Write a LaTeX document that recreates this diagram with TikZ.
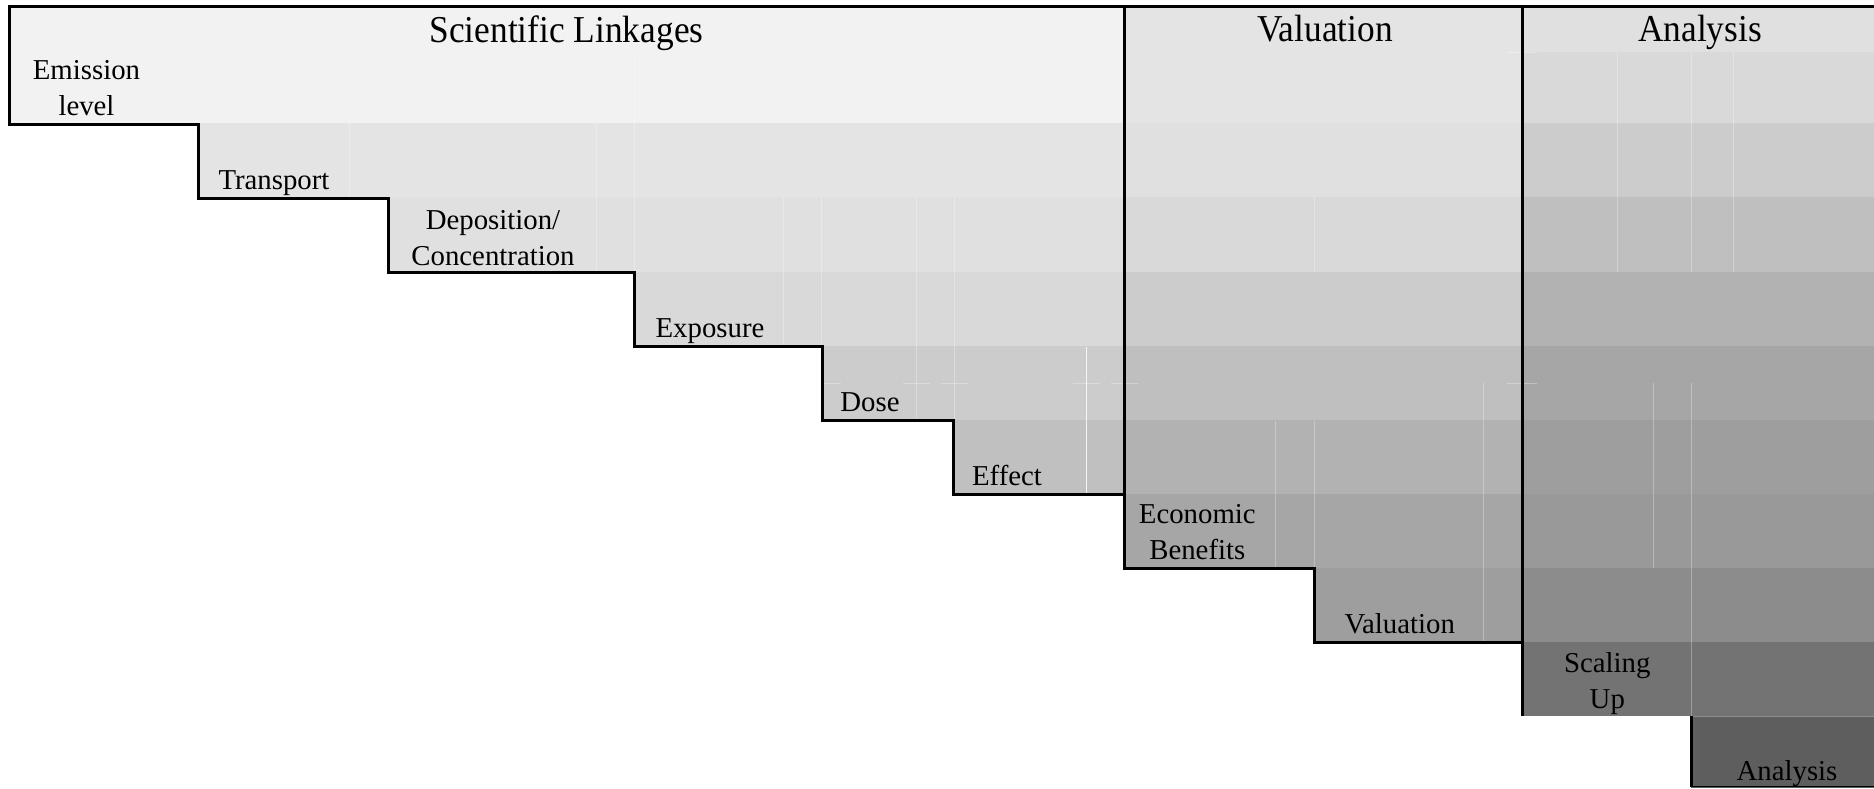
\documentclass[tikz,border=0pt]{standalone}
\usepackage{fontspec}
\setmainfont{Liberation Serif}
\newfontfamily\headfont[FakeStretch=0.93]{Liberation Serif}
\definecolor{cF2}{HTML}{F2F2F2}
\definecolor{cE4}{HTML}{E4E4E4}
\definecolor{cE0}{HTML}{E0E0E0}
\definecolor{cD9}{HTML}{D9D9D9}
\definecolor{cCC}{HTML}{CCCCCC}
\definecolor{cC0}{HTML}{C0C0C0}
\definecolor{cBF}{HTML}{BFBFBF}
\definecolor{cB2}{HTML}{B2B2B2}
\definecolor{cA6}{HTML}{A6A6A6}
\definecolor{c9E}{HTML}{9E9E9E}
\definecolor{c99}{HTML}{999999}
\definecolor{c8C}{HTML}{8C8C8C}
\definecolor{c73}{HTML}{737373}
\definecolor{c5E}{HTML}{5E5E5E}
\begin{document}
\begin{tikzpicture}[x=0.5pt,y=-0.5pt,
  edge/.style={draw=black, line width=1.5pt, line join=miter},
  seam/.style={draw=white, line width=0.5pt, opacity=0.3},
  brightseam/.style={draw=white, line width=0.6pt, opacity=0.85},
  head/.style={inner sep=0pt, anchor=base, font=\headfont\fontsize{19}{22}\selectfont},
  lab/.style={inner sep=0pt, anchor=base, font=\fontsize{14.4}{17.7}\selectfont}
]
\useasboundingbox (0,0) rectangle (1874,788);
\clip (0,0) rectangle (1874,788);
\fill[white] (0,0) rectangle (1874,788);
% Scientific Linkages section
\fill[cF2] (9.6,7) rectangle (1124.7,123.3);
\fill[cE4] (198.4,123.3) rectangle (1124.7,197.4);
\fill[cE0] (388.4,197.4) rectangle (1124.7,271.5);
\fill[cD9] (634.7,271.5) rectangle (1124.7,345.6);
\fill[cCC] (822.3,345.6) rectangle (1124.7,419.7);
\fill[cC0] (953.8,419.7) rectangle (1124.7,493.8);
% Valuation section
\fill[cE4] (1124.7,7) rectangle (1522.7,123.3);
\fill[cE0] (1124.7,123.3) rectangle (1522.7,197.4);
\fill[cD9] (1124.7,197.4) rectangle (1522.7,271.5);
\fill[cCC] (1124.7,271.5) rectangle (1522.7,345.6);
\fill[cBF] (1124.7,345.6) rectangle (1522.7,419.7);
\fill[cB2] (1124.7,419.7) rectangle (1522.7,493.8);
\fill[cA6] (1124.7,493.8) rectangle (1522.7,567.9);
\fill[c9E] (1314.7,567.9) rectangle (1522.7,642);
% Analysis section
\fill[cE0] (1522.7,7) rectangle (1874,52);
\fill[cD9] (1522.7,52) rectangle (1874,123.3);
\fill[cCC] (1522.7,123.3) rectangle (1874,197.4);
\fill[cBF] (1522.7,197.4) rectangle (1874,271.5);
\fill[cB2] (1522.7,271.5) rectangle (1874,345.6);
\fill[cA6] (1522.7,345.6) rectangle (1874,419.7);
\fill[c9E] (1522.7,419.7) rectangle (1874,493.8);
\fill[c99] (1522.7,493.8) rectangle (1874,567.9);
\fill[c8C] (1522.7,567.9) rectangle (1874,642);
\fill[c73] (1522.7,642) rectangle (1874,716.1);
\fill[c5E] (1691.4,716.1) rectangle (1874,788);
% faint cell seams
\draw[seam] (634.7,52) -- (634.7,271.5);
\draw[seam] (596,123.3) -- (596,271.5);
\draw[seam] (349.6,123.3) -- (349.6,197.4);
\draw[seam] (783,197.4) -- (783,345.6);
\draw[seam] (821,197.4) -- (821,345.6);
\draw[seam] (916,197.4) -- (916,419.7);
\draw[seam] (954,197.4) -- (954,419.7);
\draw[brightseam] (1086.6,347) -- (1086.6,493.8);
\draw[seam] (1314.7,197.4) -- (1314.7,271.5);
\draw[seam] (1314.7,421) -- (1314.7,567.9);
\draw[seam] (1275,421) -- (1275,567.9);
\draw[seam] (1483,383) -- (1483,642);
\draw[seam] (1617,52) -- (1617,271.5);
\draw[seam] (1691.4,52) -- (1691.4,271.5);
\draw[seam] (1733,52) -- (1733,271.5);
\draw[seam] (1653.6,383) -- (1653.6,567.9);
\draw[seam] (1691.4,383) -- (1691.4,716.1);
\draw[seam] (1691.4,716.1) -- (1874,716.1);
\draw[seam] (1507,52) -- (1537,52);
\draw[seam] (823,383) -- (841,383);
\draw[seam] (903,383) -- (930,383);
\draw[seam] (941,383) -- (968,383);
\draw[seam] (1073,383) -- (1100,383);
\draw[seam] (1111,383) -- (1138,383);
\draw[seam] (1507,383) -- (1537,383);
% staircase and section dividers
\draw[edge] (1874,6.5) -- (9.6,6.5) -- (9.6,124) -- (198.4,124) -- (198.4,198)
  -- (388.4,198) -- (388.4,272) -- (634.7,272) -- (634.7,346)
  -- (822.3,346) -- (822.3,420) -- (953.8,420) -- (953.8,494)
  -- (1124.7,494) -- (1124.7,568.5) -- (1314.7,568.5) -- (1314.7,642.5)
  -- (1522.7,642.5) -- (1522.7,716.1);
\draw[edge] (1124.7,6.5) -- (1124.7,494);
\draw[edge] (1522.7,6.5) -- (1522.7,642.5);
\draw[edge, line width=1.1pt] (1691.4,716.1) -- (1691.4,786.7);
\draw[edge, line width=0.6pt] (1691.4,786.7) -- (1874,786.7);
% headers
\node[head] (hsci) at (566.5,42.2) {Scientific Linkages};
\node[head] (hval) at (1325,41.7) {Valuation};
\node[head] (hana) at (1700,41.7) {Analysis};
% step labels
\node[lab] (emission) at (86.5,115) {\begin{tabular}[b]{@{}c@{}}Emission\\level\end{tabular}};
\node[lab] (transport) at (274,189.5) {Transport};
\node[lab] (deposition) at (493,265) {\begin{tabular}[b]{@{}c@{}}Deposition/\\Concentration\end{tabular}};
\node[lab] (exposure) at (710,337.5) {Exposure};
\node[lab] (dose) at (870,411.5) {Dose};
\node[lab] (effect) at (1007,485.3) {Effect};
\node[lab] (economic) at (1197.3,559) {\begin{tabular}[b]{@{}c@{}}Economic\\Benefits\end{tabular}};
\node[lab] (valuation) at (1399.7,633.3) {Valuation};
\node[lab] (scaling) at (1607.3,708.3) {\begin{tabular}[b]{@{}c@{}}Scaling\\Up\end{tabular}};
\node[lab] (analysis) at (1787,780) {Analysis};
\end{tikzpicture}
\end{document}
